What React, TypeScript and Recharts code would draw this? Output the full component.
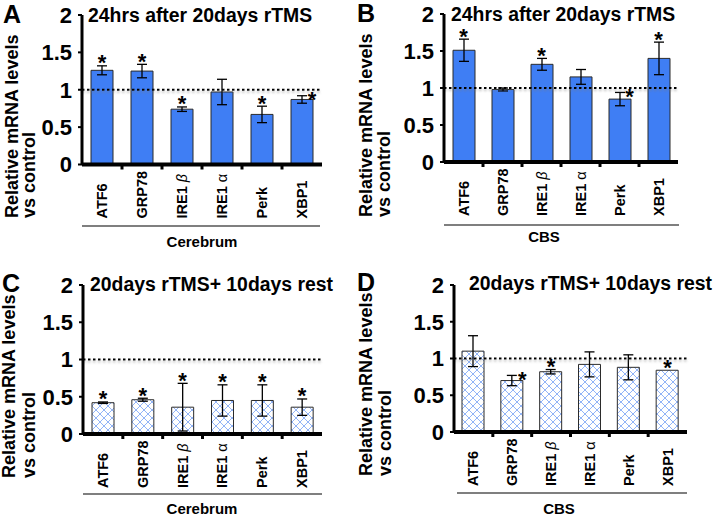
import React from 'react';
import { ComposedChart, Bar, ErrorBar, Line, XAxis, YAxis, ReferenceLine } from 'recharts';

// qPCR results, relative to control
const genes = ['ATF6', 'GRP78', 'IRE1 β', 'IRE1 α', 'Perk', 'XBP1'];
const yTicks = [0, 0.5, 1, 1.5, 2];

const cerebrum24h = [1.26, 1.25, 0.74, 0.97, 0.67, 0.87];
const cerebrum24hErr = [0.06, 0.09, 0.03, 0.17, 0.11, 0.05];
const cerebrum24hSig = [1, 1, 1, 0, 1, 2]; // 0 = none, 1 = star above, 2 = star beside

const cbs24h = [1.51, 0.98, 1.32, 1.15, 0.85, 1.4];
const cbs24hErr = [0.15, 0.02, 0.08, 0.1, 0.09, 0.22];
const cbs24hSig = [1, 0, 1, 0, 2, 1];

const cerebrumRest = [0.42, 0.46, 0.36, 0.45, 0.45, 0.36];
const cerebrumRestErr = [0.01, 0.02, 0.32, 0.21, 0.21, 0.11];
const cerebrumRestSig = [1, 1, 1, 1, 1, 1];

const cbsRest = [1.1, 0.7, 0.82, 0.92, 0.88, 0.84];
const cbsRestErr = [0.21, 0.07, 0.03, 0.17, 0.17, 0];
const cbsRestSig = [0, 2, 1, 0, 0, 1];

const FONT = '"Liberation Sans", Arial, Helvetica, sans-serif';
const BLUE = '#3f7ef4';
const W = 357;
const H = 258;

function buildRows(values: number[], errs: number[], sig: number[]) {
    return genes.map((gene, i) => ({
        gene,
        value: values[i],
        err: errs[i],
        star: sig[i] ? values[i] + errs[i] : null,
    }));
}

// rotated gene label + little marks at the band boundaries
const XTick = (props: any) => {
    const { x, y, payload, index } = props;
    const off = payload.offset ?? 20;
    const label: string = payload.value;
    const greek = label.match(/^(.*?)(\s[βα])$/);
    return (
        <g>
            {index > 0 && <line x1={x - off} x2={x - off} y1={y} y2={y + 5} stroke="#000" strokeWidth={3} />}
            <text
                transform={`translate(${x + 5},${y + 54}) rotate(-90)`}
                textAnchor="start"
                fontFamily={FONT}
                fontSize={14.5}
                fontWeight="bold"
                fill="#000"
            >
                {greek ? (
                    <>
                        {greek[1]}
                        <tspan fontWeight="normal" fontStyle={greek[2].includes('β') ? 'italic' : 'normal'}>
                            {greek[2]}
                        </tspan>
                    </>
                ) : (
                    label
                )}
            </text>
        </g>
    );
};

const starDot = (sig: number[]) => (p: any) => {
    const { cx, cy, index } = p;
    if (cy == null || !sig[index]) return <g key={index} />;
    const beside = sig[index] === 2;
    return (
        <text
            key={index}
            x={cx + (beside ? 10 : 0)}
            y={cy + (beside ? 11.5 : 4.5)}
            textAnchor="middle"
            fontFamily={FONT}
            fontSize={22}
            fontWeight="bold"
            fill="#000"
        >
            *
        </text>
    );
};

interface PanelProps {
    left: number;
    top: number;
    letter: string;
    title: string;
    group: string;
    values: number[];
    errs: number[];
    sig: number[];
    hatched: boolean;
    margin: { top: number; right: number; bottom: number; left: number };
    letterPos: [number, number];
    titlePos: [number, number];
    ylab: [number, number, number];
    rule: [number, number, number];
    groupPos: [number, number];
}

function Panel(p: PanelProps) {
    const rows = buildRows(p.values, p.errs, p.sig);
    const patId = `hatch${p.letter}`;
    return (
        <div style={{ position: 'absolute', left: p.left, top: p.top, width: W, height: H }}>
            <svg width={W} height={H} style={{ position: 'absolute', left: 0, top: 0, overflow: 'visible' }}>
                <defs>
                    <pattern id={patId} width="8" height="8" patternUnits="userSpaceOnUse">
                        <rect width="8" height="8" fill="#fff" />
                        <path d="M0,0 L8,8 M8,0 L0,8" stroke="#86acf6" strokeWidth="0.9" />
                    </pattern>
                    <filter id={`sh${p.letter}`} filterUnits="userSpaceOnUse" x="0" y="0" width={W} height={H}>
                        <feDropShadow dx="0" dy="2" stdDeviation="1.2" floodColor="#777" floodOpacity="0.5" />
                    </filter>
                </defs>
                <g fontFamily={FONT} fontWeight="bold" fill="#000">
                    <text x={p.letterPos[0]} y={p.letterPos[1]} fontSize={25}>{p.letter}</text>
                    <text x={p.titlePos[0]} y={p.titlePos[1]} fontSize={19.4}>{p.title}</text>
                    <text transform={`translate(${p.ylab[0]},${p.ylab[2]}) rotate(-90)`} fontSize={18}>
                        Relative mRNA levels
                    </text>
                    <text transform={`translate(${p.ylab[1]},${p.ylab[2]}) rotate(-90)`} fontSize={18}>
                        vs control
                    </text>
                    <line x1={p.rule[0]} x2={p.rule[1]} y1={p.rule[2]} y2={p.rule[2]} stroke="#000" strokeWidth={1.2} />
                    <text x={p.groupPos[0]} y={p.groupPos[1]} fontSize={15} textAnchor="middle">{p.group}</text>
                </g>
            </svg>
            <div style={{ position: 'absolute', left: 0, top: 0 }}>
                <ComposedChart width={W} height={H} data={rows} margin={p.margin}>
                    <XAxis
                        dataKey="gene"
                        type="category"
                        interval={0}
                        height={60}
                        tickSize={0}
                        tickMargin={0}
                        tickLine={false}
                        axisLine={{ stroke: '#000', strokeWidth: 4 }}
                        tick={<XTick />}
                    />
                    <YAxis
                        domain={[0, 2]}
                        ticks={yTicks}
                        width={60}
                        tickSize={4}
                        tickMargin={6}
                        axisLine={{ stroke: '#000', strokeWidth: 3 }}
                        tickLine={{ stroke: '#000', strokeWidth: 2 }}
                        tick={{ fontSize: 22, fontWeight: 'bold', fill: '#000', fontFamily: FONT }}
                    />
                    <Bar
                        dataKey="value"
                        barSize={22}
                        fill={p.hatched ? `url(#${patId})` : BLUE}
                        stroke="#2b2b2b"
                        strokeWidth={1}
                        isAnimationActive={false}
                    >
                        <ErrorBar dataKey="err" width={5} stroke="#000" strokeWidth={1.3} isAnimationActive={false} />
                    </Bar>
                    <ReferenceLine
                        y={1}
                        stroke="#000"
                        strokeWidth={2}
                        strokeDasharray="2.5 2.5"
                        filter={`url(#sh${p.letter})`}
                    />
                    <Line
                        dataKey="star"
                        stroke="none"
                        dot={starDot(p.sig)}
                        activeDot={false}
                        isAnimationActive={false}
                    />
                </ComposedChart>
            </div>
        </div>
    );
}

export default function App() {
    return (
        <div
            style={{
                position: 'absolute',
                left: 0,
                top: 0,
                width: 714,
                height: 516,
                background: '#fff',
                overflow: 'hidden',
            }}
        >
            <Panel
                left={0}
                top={0}
                letter="A"
                title="24hrs after 20days rTMS"
                group="Cerebrum"
                values={cerebrum24h}
                errs={cerebrum24hErr}
                sig={cerebrum24hSig}
                hatched={false}
                margin={{ top: 15, right: 35, bottom: 33.5, left: 22 }}
                letterPos={[3, 23]}
                titlePos={[88, 22]}
                ylab={[18, 35, 218]}
                rule={[82, 320, 226]}
                groupPos={[202, 247]}
            />
            <Panel
                left={357}
                top={0}
                letter="B"
                title="24hrs after 20days rTMS"
                group="CBS"
                values={cbs24h}
                errs={cbs24hErr}
                sig={cbs24hSig}
                hatched={false}
                margin={{ top: 14, right: 36, bottom: 36, left: 27 }}
                letterPos={[0, 22]}
                titlePos={[94, 21]}
                ylab={[15, 33, 217]}
                rule={[87, 322, 225]}
                groupPos={[187, 242]}
            />
            <Panel
                left={0}
                top={258}
                letter="C"
                title="20days rTMS+ 10days rest"
                group="Cerebrum"
                values={cerebrumRest}
                errs={cerebrumRestErr}
                sig={cerebrumRestSig}
                hatched={true}
                margin={{ top: 27, right: 35, bottom: 22, left: 23 }}
                letterPos={[2, 34]}
                titlePos={[90, 33]}
                ylab={[15, 35, 220]}
                rule={[83, 322, 236]}
                groupPos={[202, 256]}
            />
            <Panel
                left={357}
                top={258}
                letter="D"
                title="20days rTMS+ 10days rest"
                group="CBS"
                values={cbsRest}
                errs={cbsRestErr}
                sig={cbsRestSig}
                hatched={true}
                margin={{ top: 27, right: 27, bottom: 24, left: 37 }}
                letterPos={[0, 33]}
                titlePos={[112, 32]}
                ylab={[15, 34, 218]}
                rule={[100, 330, 235]}
                groupPos={[202, 256]}
            />
        </div>
    );
}
